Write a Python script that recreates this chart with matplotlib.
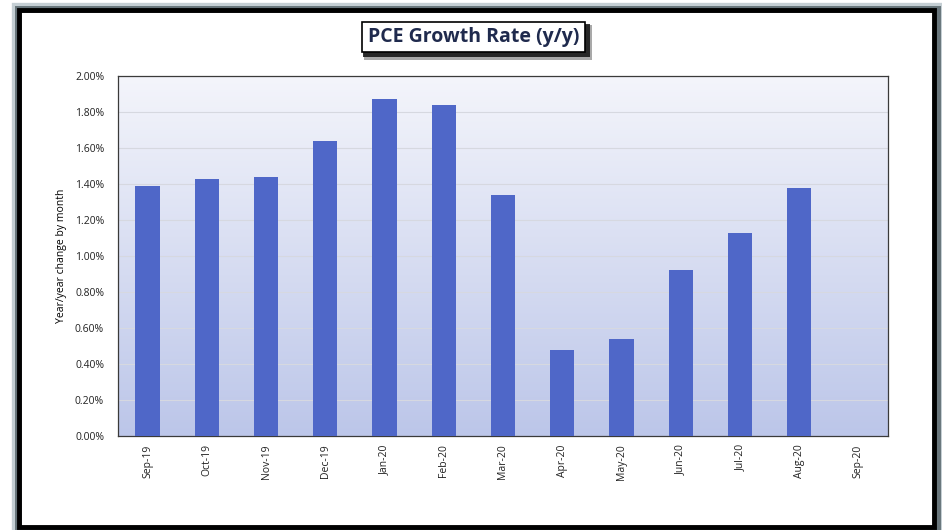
import numpy as np
import matplotlib
matplotlib.use("Agg")
import matplotlib.pyplot as plt
from matplotlib.patches import Rectangle
from matplotlib.ticker import FuncFormatter

months = ["Sep-19", "Oct-19", "Nov-19", "Dec-19", "Jan-20", "Feb-20", "Mar-20",
          "Apr-20", "May-20", "Jun-20", "Jul-20", "Aug-20", "Sep-20"]
pce_yy = [1.39, 1.43, 1.44, 1.64, 1.87, 1.84, 1.34,
          0.48, 0.54, 0.92, 1.13, 1.38, np.nan]

plt.rcParams['font.family'] = ['Open Sans', 'DejaVu Sans']

W, H = 942, 530
fig = plt.figure(figsize=(W / 100, H / 100), dpi=100)
fig.patch.set_facecolor("white")


def px_rect(x0, y0, x1, y1, **kw):
    # rectangle given in pixel coords from top-left
    r = Rectangle((x0 / W, (H - y1) / H), (x1 - x0) / W, (y1 - y0) / H,
                  transform=fig.transFigure, **kw)
    fig.patches.append(r)
    return r


# outer frame with soft shadow
px_rect(16, 7, 938, 531, fill=False, edgecolor="#9fb0b8", linewidth=6, alpha=0.6)
px_rect(17.5, 8.5, 936.5, 529.5, fill=False, edgecolor="#2a3a40", linewidth=5, alpha=0.6)
px_rect(19, 10, 934, 527, fill=False, edgecolor="black", linewidth=3.5)

ax = fig.add_axes([118 / W, (H - 436) / H, 770 / W, 360 / H])

# gradient plot area
grad = np.linspace(0, 1, 256).reshape(-1, 1)
cmap = matplotlib.colors.LinearSegmentedColormap.from_list("bg", ["#f4f5fb", "#bcc6e9"])
ax.imshow(grad, cmap=cmap, aspect="auto", extent=[0, 1, 0, 1],
          transform=ax.transAxes, zorder=0)

x = np.arange(len(months))
ax.bar(x, pce_yy, width=0.41, color="#4f67c8", zorder=3)

ax.set_xlim(-0.5, len(months) - 0.5)
ax.set_ylim(0, 2.0)
ax.set_yticks(np.arange(0, 2.01, 0.2))
ax.yaxis.set_major_formatter(FuncFormatter(lambda v, p: f"{v:.2f}%"))
ax.set_xticks(x)
ax.set_xticklabels(months, rotation=90)
ax.tick_params(axis="both", length=0, labelsize=7.5, colors="#222222")
ax.tick_params(axis="x", pad=6)
ax.tick_params(axis="y", pad=10)
ax.grid(axis="y", color="#d6d8e0", linewidth=0.8, zorder=1)
for s in ax.spines.values():
    s.set_color("#3a3a3a")
    s.set_linewidth(0.9)

ax.set_ylabel("Year/year change by month", fontsize=7.5, labelpad=6)

# title box with shadow
px_rect(364, 25, 592, 60, facecolor="#555555", edgecolor="none", alpha=0.5)
px_rect(363, 24, 590, 57, facecolor="#111111", edgecolor="none", alpha=0.85)
px_rect(362, 22, 585, 52, facecolor="white", edgecolor="black", linewidth=1.2)
fig.text(473.5 / W, (H - 37) / H, "PCE Growth Rate (y/y)", ha="center", va="center",
         fontsize=14, fontweight="bold", color="#1f2a4d")

fig.savefig("out.png", dpi=100)
